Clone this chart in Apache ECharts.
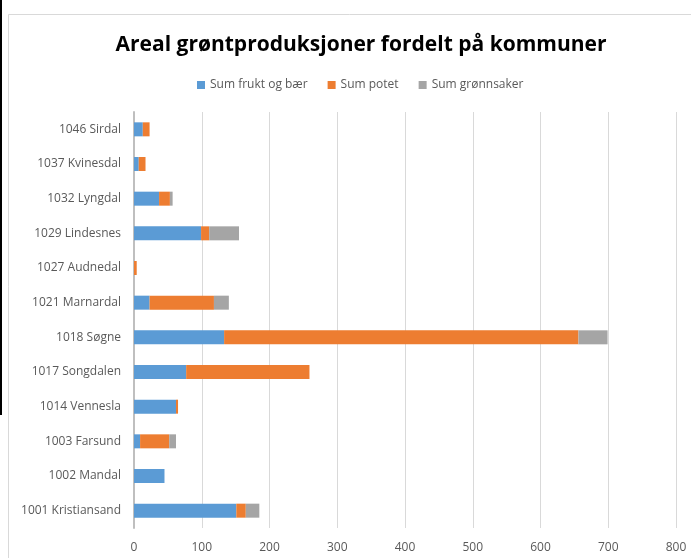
<!DOCTYPE html>
<html lang="no">
<head>
<meta charset="UTF-8">
<title>Areal grøntproduksjoner</title>
<script src="https://cdn.jsdelivr.net/npm/echarts@6/dist/echarts.min.js"></script>
<style>
    html, body { margin: 0; padding: 0; background: #fff; }
    #main { width: 691px; height: 558px; }
</style>
</head>
<body>
<div id="main"></div>
<script>
    // categories bottom -> top (ECharts draws the first category at the bottom)
    var kommuner = ['1001 Kristiansand', '1002 Mandal', '1003 Farsund', '1014 Vennesla', '1017 Songdalen',
        '1018 Søgne', '1021 Marnardal', '1027 Audnedal', '1029 Lindesnes', '1032 Lyngdal',
        '1037 Kvinesdal', '1046 Sirdal'];
    var fruktBaer = [151, 45, 9, 62, 77, 133, 23, 0, 99, 37, 7, 13];
    var potet = [14, 0, 43, 3, 182, 523, 95, 4, 12, 16, 10, 10];
    var gronnsaker = [20, 0, 10, 0, 0, 43, 22, 0, 44, 4, 0, 0];
    var seriesNames = ['Sum frukt og bær', 'Sum potet', 'Sum grønnsaker'];
    var colors = ['#5B9BD5', '#ED7D31', '#A5A5A5'];

    var font = '"Open Sans", "Noto Sans", sans-serif';
    var chart = echarts.init(document.getElementById('main'));

    function bar(i, data) {
        return {
            name: seriesNames[i],
            type: 'bar',
            stack: 'sum',
            barWidth: 14,
            data: data,
            itemStyle: { color: colors[i] }
        };
    }

    chart.setOption({
        animation: false,
        color: colors,
        title: {
            text: 'Areal grøntproduksjoner fordelt på kommuner',
            left: 356,
            top: 30,
            textAlign: 'center',
            textStyle: { fontFamily: font, fontSize: 21, fontWeight: 'bold', color: '#000' }
        },
        legend: {
            data: seriesNames,
            top: 74,
            left: 192,
            width: 400,
            itemWidth: 8,
            itemHeight: 8,
            itemGap: 20,
            icon: 'rect',
            textStyle: { fontFamily: font, fontSize: 12, color: '#595959' }
        },
        grid: { left: 134, right: 15, top: 112, bottom: 30 },
        xAxis: {
            type: 'value',
            min: 0,
            max: 800,
            interval: 100,
            axisLine: { show: false },
            axisTick: { show: false },
            axisLabel: { fontFamily: font, fontSize: 12, color: '#595959', margin: 14 },
            splitLine: { lineStyle: { color: '#d9d9d9', width: 1 } }
        },
        yAxis: {
            type: 'category',
            data: kommuner,
            axisLine: { lineStyle: { color: '#bfbfbf', width: 2 } },
            axisTick: { show: false },
            axisLabel: { fontFamily: font, fontSize: 12, color: '#595959', margin: 13 }
        },
        graphic: [
            { type: 'line', shape: { x1: 8.5, y1: 558, x2: 8.5, y2: 14.5 }, style: { stroke: '#d9d9d9', lineWidth: 1 } },
            { type: 'line', shape: { x1: 8.5, y1: 14.5, x2: 691, y2: 14.5 }, style: { stroke: '#d9d9d9', lineWidth: 1 } },
            { type: 'rect', shape: { x: 0, y: 0, width: 2, height: 415 }, style: { fill: '#000' } }
        ],
        series: [bar(0, fruktBaer), bar(1, potet), bar(2, gronnsaker)]
    });
</script>
</body>
</html>
